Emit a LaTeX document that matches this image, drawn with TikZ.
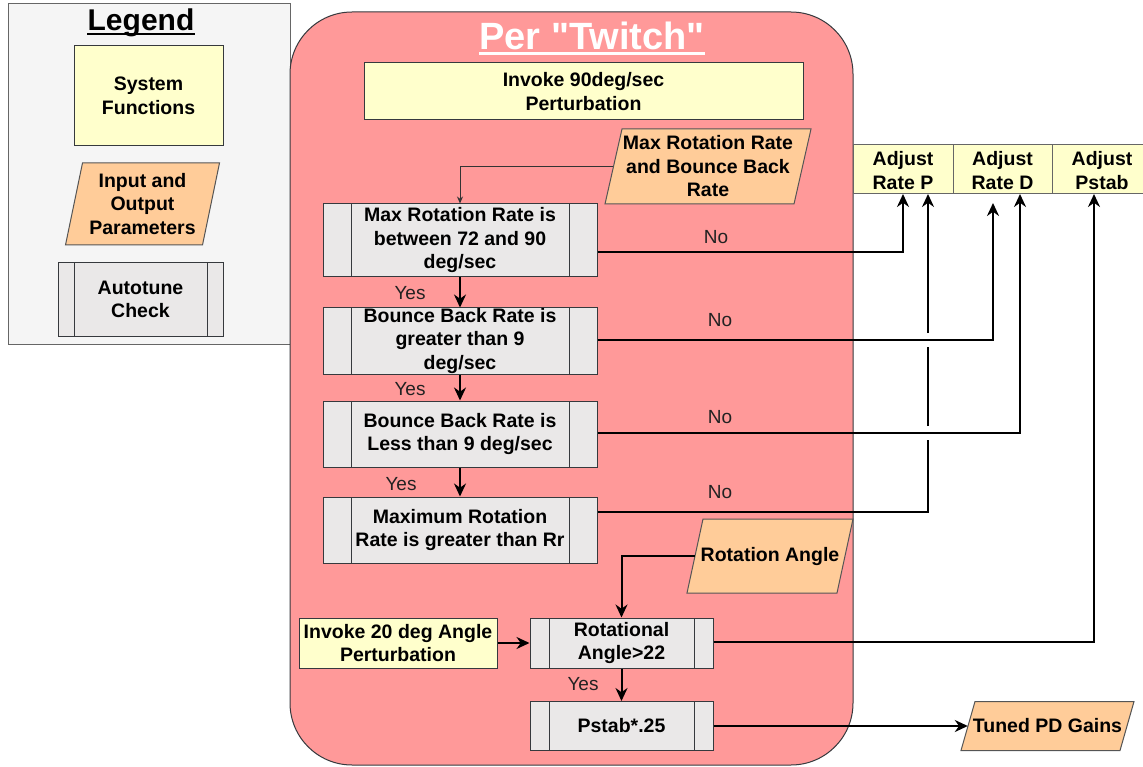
\documentclass[tikz,border=0pt]{standalone}
\usepackage{fontspec}
\setmainfont{Liberation Sans}
% same face without TeX quote mapping, so " stays straight
\newfontfamily\plainsans{Liberation Sans}
\usetikzlibrary{arrows.meta,calc}

\definecolor{legbg}{HTML}{F5F5F5}
\definecolor{legline}{HTML}{666666}
\definecolor{twitch}{HTML}{FF9999}
\definecolor{sysfill}{HTML}{FFFFCC}
\definecolor{iofill}{HTML}{FFCC99}
\definecolor{subfill}{HTML}{EAE8E8}
\definecolor{boxline}{HTML}{36393D}
\definecolor{ioline}{HTML}{555555}
\definecolor{labcol}{HTML}{222222}

\tikzset{
  txt/.style={font=\fontsize{19.5}{23.5}\selectfont\bfseries, align=center, inner sep=0pt, text=black},
  sysbox/.style={txt, draw=boxline, fill=sysfill, line width=1pt},
  subbox/.style={txt, draw=boxline, fill=subfill, line width=1pt,
    path picture={
      \draw[boxline, line width=1pt] ([xshift=#1]path picture bounding box.north west) -- ([xshift=#1]path picture bounding box.south west);
      \draw[boxline, line width=1pt] ([xshift=-#1]path picture bounding box.north east) -- ([xshift=-#1]path picture bounding box.south east);}},
  subbox/.default=28pt,
  iopath/.style={draw=ioline, fill=iofill, line width=1pt},
  lab/.style={font=\fontsize{19}{23}\selectfont, text=labcol, inner sep=0pt},
  wire/.style={line width=2pt, draw=black, -{Stealth[length=13pt,width=12pt]}},
  thinwire/.style={line width=1pt, draw=black!80, -{Stealth[length=7pt,width=6pt]}},
}

% parallelogram: name, centre x, centre y, edge length, height, skew, text
\newcommand{\ioblock}[7]{%
  \draw[iopath] ({#2-#4/2+#6/2},{#3-#5/2}) -- ({#2+#4/2+#6/2},{#3-#5/2})
    -- ({#2+#4/2-#6/2},{#3+#5/2}) -- ({#2-#4/2-#6/2},{#3+#5/2}) -- cycle;
  \node[txt, minimum width=#4pt, minimum height=#5pt] (#1) at (#2,#3) {#7};
}

\begin{document}
\begin{tikzpicture}[x=1pt,y=-1pt]
\useasboundingbox (0,0) rectangle (1143,767);

% ---- legend panel ----
\draw[draw=legline, fill=legbg, line width=1pt] (8,4) rectangle (290,344);
\node[font=\fontsize{30}{36}\selectfont\bfseries, inner sep=0pt, anchor=base] (leg) at (141,31) {Legend};
\draw[black, line width=2.5pt] ($(leg.base west)+(0,3)$) -- ($(leg.base east)+(0,3)$);
\node[sysbox, minimum width=149pt, minimum height=100pt] (lsys) at (148.5,96) {System\\Functions};
\ioblock{lio}{142.5}{204}{137}{82}{17}{Input and\\Output\\Parameters}
\node[subbox=16pt, minimum width=165pt, minimum height=73pt] (lsub) at (140.5,299.5) {Autotune\\Check};

% ---- per-twitch container ----
\draw[draw=boxline, fill=twitch, line width=1pt, rounded corners=62pt] (290,12) rectangle (853,765);
\node[font=\plainsans\fontsize{38}{46}\selectfont\bfseries, text=white, inner sep=0pt, anchor=base] (ttl) at (592,50) {Per "Twitch"};
\draw[white, line width=3pt] ($(ttl.base west)+(0,4)$) -- ($(ttl.base east)+(0,4)$);

\node[sysbox, minimum width=439pt, minimum height=57pt] (inv90) at (583.5,91.5) {Invoke 90deg/sec\\Perturbation};
\ioblock{mr}{708}{166.5}{189}{75}{17}{Max Rotation Rate\\and Bounce Back\\Rate}

\node[subbox, minimum width=274pt, minimum height=73pt] (b1) at (460,240.5) {Max Rotation Rate is\\between 72 and 90\\deg/sec};
\node[subbox, minimum width=274pt, minimum height=66pt] (b2) at (460,341) {Bounce Back Rate is\\greater than 9\\deg/sec};
\node[subbox, minimum width=274pt, minimum height=66pt] (b3) at (460,434) {Bounce Back Rate is\\Less than 9 deg/sec};
\node[subbox, minimum width=274pt, minimum height=66pt] (b4) at (460,530) {Maximum Rotation\\Rate is greater than Rr};

\ioblock{ra}{770}{556}{150}{74}{16}{Rotation Angle}
\node[sysbox, minimum width=198pt, minimum height=50pt] (inv20) at (398,643) {Invoke 20 deg Angle\\Perturbation};
\node[subbox=19pt, minimum width=183pt, minimum height=50pt] (rot) at (621.5,643) {Rotational\\Angle>22};
\node[subbox=19pt, minimum width=183pt, minimum height=49pt] (ps) at (621.5,726) {Pstab*.25};
\ioblock{tuned}{1047.5}{726}{159}{49}{14}{Tuned PD Gains}

% ---- adjustment targets ----
\fill[sysfill] (853,145) rectangle (1143,194);
\draw[legline, line width=1pt] (1143,145) -- (853,145) -- (853,194) -- (1143,194);
\draw[legline, line width=1pt] (953,145) -- (953,194) (1052,145) -- (1052,194);
\node[txt, minimum width=100pt, minimum height=49pt] (adjP) at (903,170.5) {Adjust\\Rate P};
\node[txt, minimum width=99pt, minimum height=49pt] (adjD) at (1002.5,170.5) {Adjust\\Rate D};
\node[txt, minimum width=90pt, minimum height=49pt] (adjS) at (1102,170.5) {Adjust\\Pstab};
\coordinate (adjPb) at (903,194);
\coordinate (adjDb) at (1002.5,194);
\coordinate (adjSb) at (1102,194);

% ---- flow inside the twitch ----
\draw[thinwire] (mr.west) -| (b1.north);
\draw[wire] (b1) -- (b2);
\draw[wire] (b2) -- (b3);
\draw[wire] (b3) -- (b4);
\draw[wire] (ra.west) -| (rot.north);
\draw[wire] (inv20) -- (rot);
\draw[wire] (rot) -- (ps);
\draw[wire] (ps) -- (tuned);

\node[lab] at (410,293) {Yes};
\node[lab] at (410,389) {Yes};
\node[lab] at (401,484) {Yes};
\node[lab] at (583,684) {Yes};

% ---- failure branches ----
\draw[wire] ([yshift=-11.5pt]b1.east) -| (adjPb);
\draw[wire] ([yshift=1pt]b2.east) -| ($(adjDb)+(-9.5,9)$);
\draw[wire] ([yshift=1pt]b3.east) -| ($(adjDb)+(17.5,0)$);
\coordinate (jx) at ($(adjPb)+(25,0)$);
\draw[wire,-] ([yshift=18pt]b4.east) -| ($(jx|-b3.east)+(0,6)$);
\draw[wire,-] ($(jx|-b3.east)+(0,-8)$) -- ($(jx|-b2.east)+(0,6)$);
\draw[wire] ($(jx|-b2.east)+(0,-8)$) -- (jx);
\draw[wire] ([yshift=1pt]rot.east) -| ($(adjSb)+(-8,0)$);

\node[lab] at (716,237) {No};
\node[lab] at (720,320) {No};
\node[lab] at (720,417) {No};
\node[lab] at (720,492) {No};
\end{tikzpicture}
\end{document}
